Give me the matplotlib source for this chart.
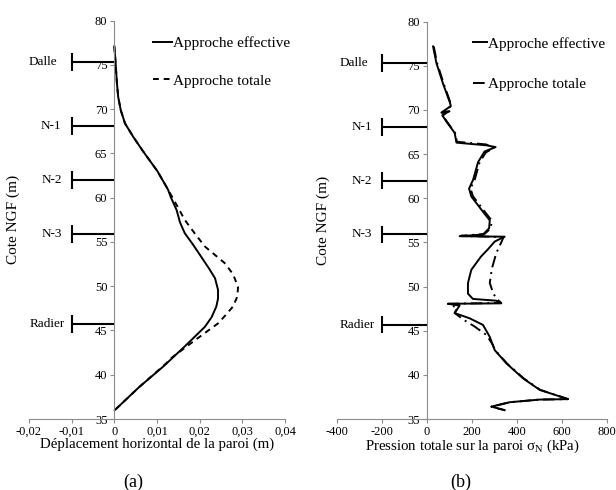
import matplotlib
matplotlib.use("Agg")
import matplotlib.pyplot as plt
from matplotlib.ticker import FuncFormatter, MultipleLocator

plt.rcParams.update({
    "font.family": "Liberation Serif",
    "mathtext.fontset": "custom",
    "mathtext.rm": "Liberation Serif",
    "mathtext.it": "Liberation Serif:italic",
    "font.size": 9,
})

# ---------------------------------------------------------------------------
# Data
# ---------------------------------------------------------------------------
# (a) horizontal wall displacement [m] against elevation NGF [m]
elev_disp_eff = [77.1, 75.2, 73.0, 71.4, 69.9, 68.4, 66.9, 65.2, 63.0, 60.9, 60.1,
                 58.6, 57.2, 56.0, 54.8, 53.3, 52.0, 50.9, 49.6, 48.6, 47.7, 46.5,
                 45.4, 43.2, 40.9, 38.6, 36.0]
disp_eff = [0.0, 0.0003, 0.0006, 0.0009, 0.0015, 0.0025, 0.0044, 0.0068, 0.0101, 0.0126, 0.0132,
            0.0146, 0.0154, 0.0165, 0.0183, 0.0204, 0.0222, 0.0236, 0.0243, 0.0243, 0.0239, 0.0228,
            0.0212, 0.0165, 0.0114, 0.0058, 0.0001]

elev_disp_tot = [77.1, 75.2, 73.0, 71.4, 69.9, 68.4, 66.9, 65.2, 63.0, 60.9, 60.3,
                 59.0, 57.5, 56.0, 54.5, 52.6, 51.5, 50.9, 49.9, 48.8, 47.7, 46.8,
                 45.8, 43.9, 41.9, 41.3, 38.6, 36.0]
disp_tot = [0.0, 0.0003, 0.0006, 0.0009, 0.0015, 0.0025, 0.0044, 0.0068, 0.0101, 0.0126, 0.0133,
            0.0148, 0.0165, 0.0188, 0.0212, 0.0259, 0.0276, 0.0282, 0.0290, 0.0288, 0.0278, 0.0262,
            0.0243, 0.0189, 0.0134, 0.0122, 0.0058, 0.0001]

# (b) total normal pressure on the wall [kPa] against elevation NGF [m]
elev_pres_eff = [77.2, 75.3, 73.0, 70.9, 70.45, 69.7, 69.85, 69.4, 68.7, 67.4, 66.3,
                 66.0, 65.8, 65.3, 64.1, 62.1, 61.1, 60.2, 58.7, 57.5, 56.6, 55.9,
                 55.7, 55.65, 55.1, 54.2, 53.4, 51.9, 50.4, 49.2, 48.6, 48.4, 48.1,
                 48.05, 47.85, 47.0, 46.4, 45.65, 44.3, 42.8, 41.3, 39.6, 38.3, 37.25,
                 37.2, 36.9, 36.4, 36.0]
pres_eff = [27, 42, 71, 101, 106, 64, 98, 68, 86, 123, 131,
            264, 305, 256, 227, 205, 187, 197, 242, 279, 276, 249,
            145, 345, 301, 270, 240, 197, 182, 182, 204, 308, 330,
            93, 145, 123, 190, 249, 279, 301, 353, 427, 501, 627,
            501, 368, 286, 345]

elev_pres_tot = [77.2, 75.3, 73.0, 70.9, 70.45, 69.7, 69.85, 69.4, 68.7, 67.4, 66.4,
                 66.1, 65.75, 65.2, 64.1, 62.1, 61.1, 60.2, 58.7, 57.5, 56.6, 55.95,
                 55.75, 55.6, 55.0, 53.8, 52.0, 50.4, 49.2, 48.6, 48.15,
                 48.05, 47.6, 47.0, 46.2, 45.5, 44.5, 43.5, 42.8, 41.3, 39.6, 38.3, 37.25,
                 37.2, 36.9, 36.4, 36.0]
pres_tot = [30, 45, 74, 103, 108, 66, 100, 70, 88, 125, 133,
            262, 300, 262, 234, 212, 193, 205, 250, 287, 284, 255,
            150, 340, 330, 308, 288, 279, 295, 310, 330,
            93, 135, 123, 165, 210, 265, 290, 303, 355, 430, 503, 627,
            501, 368, 286, 345]

# construction levels (slab and floors)
level_names = ["Dalle", "N-1", "N-2", "N-3", "Radier"]
level_elev = [75.3, 68.1, 62.0, 55.9, 45.7]
level_gap = [14, 10, 10, 10, 7]  # label offset from the bar, px

disp_ticks = [-0.02, -0.01, 0.0, 0.01, 0.02, 0.03, 0.04]
pres_ticks = [-400, -200, 0, 200, 400, 600, 800]

# ---------------------------------------------------------------------------
# Figure
# ---------------------------------------------------------------------------
fig = plt.figure(figsize=(6.16, 4.9), dpi=100)
ax_a = fig.add_axes([29 / 616, 71 / 490, 256 / 616, 398.3 / 490])
ax_b = fig.add_axes([337 / 616, 71 / 490, 270 / 616, 397.3 / 490])

axis_grey = "#8c8c8c"


def style_axis(ax, xlim, ticks, fmt, bar_x):
    ax.set_xlim(*xlim)
    ax.set_ylim(35, 80)
    for side in ("top", "right"):
        ax.spines[side].set_visible(False)
    ax.spines["left"].set_position(("data", 0))
    for side in ("left", "bottom"):
        ax.spines[side].set_color(axis_grey)
        ax.spines[side].set_linewidth(0.8)
    ax.set_xticks(ticks)
    ax.xaxis.set_major_formatter(FuncFormatter(fmt))
    ax.yaxis.set_major_locator(MultipleLocator(5))
    ax.tick_params(axis="both", direction="out", length=3, width=0.8,
                   color=axis_grey, labelsize=9, pad=2)
    ax.set_ylabel("Cote NGF (m)", fontsize=11)

    # floor levels: horizontal strut with an end bar
    for name, z, gap in zip(level_names, level_elev, level_gap):
        ax.plot([bar_x, 0], [z, z], color="black", lw=1.5, solid_capstyle="butt")
        ax.plot([bar_x, bar_x], [z - 1.0, z + 1.0], color="black", lw=1.5,
                solid_capstyle="butt")
        ax.annotate(name, xy=(bar_x, z), xytext=(-gap * 0.72, 0),
                    textcoords="offset points", ha="right", va="center", fontsize=9.5)


def fmt_disp(v, pos):
    if abs(v) < 1e-9:
        return "0"
    return f"{v:.2f}".replace(".", ",")


def fmt_pres(v, pos):
    return f"{v:.0f}"


style_axis(ax_a, (-0.02, 0.04), disp_ticks, fmt_disp, -0.01)
style_axis(ax_b, (-400, 800), pres_ticks, fmt_pres, -200)

ax_a.yaxis.set_label_coords(-0.035, 0.5)
ax_b.yaxis.set_label_coords(-0.026, 0.5)

# (a) displacement
la1, = ax_a.plot(disp_eff, elev_disp_eff, color="black", lw=1.4, label="Approche effective")
la2, = ax_a.plot(disp_tot, elev_disp_tot, color="black", lw=1.4, ls=(0, (3, 2.5)),
                 label="Approche totale")
ax_a.set_xlabel("Déplacement horizontal de la paroi (m)", fontsize=10.7, labelpad=0)
ax_a.legend(handles=[la1, la2], loc="upper left", bbox_to_anchor=(0.483, 0.96),
            frameon=False, fontsize=11, handlelength=1.25, handletextpad=0.05,
            labelspacing=1.55, borderpad=0, borderaxespad=0)

# (b) pressure
lb1, = ax_b.plot(pres_eff, elev_pres_eff, color="black", lw=1.4, label="Approche effective")
lb2, = ax_b.plot(pres_tot, elev_pres_tot, color="black", lw=1.4, ls=(0, (6, 2.5, 1, 2.5)),
                 label="Approche totale")
ax_b.set_xlabel("Pression totale sur la paroi σ$_{\\mathrm{N}}$ (kPa)", fontsize=10.7, labelpad=0)
ax_b.legend(handles=[lb1, lb2], loc="upper left", bbox_to_anchor=(0.505, 0.962),
            frameon=False, fontsize=11, handlelength=0.9, handletextpad=0.05,
            labelspacing=1.75, borderpad=0, borderaxespad=0)

fig.text(133 / 616, 1 - 482 / 490, "(a)", ha="center", va="center", fontsize=13)
fig.text(461 / 616, 1 - 482 / 490, "(b)", ha="center", va="center", fontsize=13)

fig.savefig("out.png", dpi=100)
